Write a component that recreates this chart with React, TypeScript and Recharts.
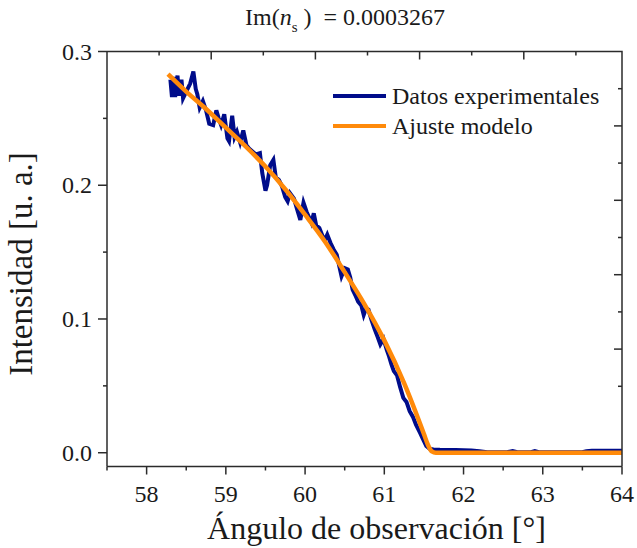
import { Legend, Line, LineChart, XAxis, YAxis } from "recharts";

// experimental scan (angle in degrees, intensity)
const expX = [
  58.3, 58.32, 58.34, 58.36, 58.39, 58.41, 58.44, 58.46, 58.5, 58.55, 58.59, 58.62, 58.64, 58.67, 58.71, 58.75,
  58.79, 58.84, 58.88, 58.91, 58.94, 58.98, 59.02, 59.04, 59.08, 59.11, 59.14, 59.18, 59.22, 59.26, 59.3, 59.34,
  59.38, 59.43, 59.46, 59.5, 59.52, 59.56, 59.6, 59.63, 59.67, 59.71, 59.75, 59.78, 59.81, 59.86, 59.9, 59.94,
  59.98, 60.02, 60.05, 60.08, 60.11, 60.14, 60.18, 60.22, 60.25, 60.28, 60.32, 60.36, 60.4, 60.43, 60.46, 60.5,
  60.54, 60.57, 60.6, 60.64, 60.67, 60.71, 60.74, 60.77, 60.8, 60.84, 60.88, 60.92, 60.95, 60.99, 61.03, 61.06,
  61.09, 61.12, 61.16, 61.2, 61.24, 61.28, 61.32, 61.36, 61.4, 61.45, 61.49, 61.53, 61.57, 61.62, 61.7, 61.8,
  61.9, 62.0, 62.1, 62.2, 62.3, 62.55, 62.62, 62.68, 62.85, 62.9, 62.95, 63.5, 63.55, 63.62, 63.7, 64.0,
];
const expY = [
  0.279, 0.266, 0.281, 0.266, 0.282, 0.267, 0.279, 0.265, 0.27, 0.276, 0.285, 0.272, 0.268, 0.258, 0.263, 0.256,
  0.246, 0.245, 0.256, 0.25, 0.245, 0.253, 0.235, 0.233, 0.252, 0.236, 0.24, 0.232, 0.241, 0.23, 0.227, 0.225,
  0.223, 0.224, 0.209, 0.196, 0.2, 0.215, 0.219, 0.206, 0.204, 0.199, 0.191, 0.188, 0.194, 0.19, 0.182, 0.174,
  0.187, 0.18, 0.176, 0.172, 0.179, 0.17, 0.168, 0.162, 0.159, 0.163, 0.157, 0.152, 0.148, 0.14, 0.132, 0.138,
  0.137, 0.131, 0.122, 0.117, 0.113, 0.11, 0.103, 0.108, 0.107, 0.099, 0.092, 0.086, 0.081, 0.085, 0.077, 0.072,
  0.066, 0.061, 0.058, 0.049, 0.041, 0.038, 0.031, 0.027, 0.021, 0.015, 0.01, 0.005, 0.003, 0.0025, 0.0022, 0.0021,
  0.002, 0.0019, 0.0017, 0.0012, 0.0004, 0.0004, 0.0012, 0.0004, 0.0004, 0.0012, 0.0004, 0.0004, 0.0012, 0.0014, 0.0014, 0.0014,
];

// model fit
const fitX = [58.27, 58.5, 58.75, 59.0, 59.25, 59.5, 59.75, 60.0, 60.25, 60.5, 60.75, 61.0, 61.25, 61.5, 61.55, 61.6, 61.65, 62.5, 64.0];
const fitY = [0.283, 0.27, 0.257, 0.243, 0.229, 0.214, 0.197, 0.178, 0.158, 0.135, 0.111, 0.084, 0.052, 0.014, 0.006, 0.001, 0, 0, 0];

const xTicks = [57.5, 58, 58.5, 59, 59.5, 60, 60.5, 61, 61.5, 62, 62.5, 63, 63.5, 64];
const yTicks = [0, 0.05, 0.1, 0.15, 0.2, 0.25, 0.3];
const seriesOrder = ["Datos experimentales", "Ajuste modelo"];

const xDomain = [57.5, 64];
const yDomain = [-0.0103, 0.3];

const expData = expX.map((x, i) => ({ x, y: expY[i] }));
const fitData = fitX.map((x, i) => ({ x, y: fitY[i] }));

const W = 637;
const H = 548;
const MARGIN = { top: 51.5, right: 15, bottom: 3.5, left: 47 };
// top and right frame edges carry their own unlabeled tick spacing (px)
const TOP_STEP = 52.1;
const RIGHT_STEP = 37.2;
const FRAME_TICKS = [1, 2, 3, 4, 5, 6, 7, 8, 9];

const FONT = "Liberation Serif, Times New Roman, serif";
const INK = "#1a1a1a";
const FRAME = "#2b2b2b";
const BLUE = "#000c8a";
const ORANGE = "#ff8a0a";

const isMult = (v: number, step: number) => Math.abs(v / step - Math.round(v / step)) < 1e-6;

const BottomTick = (p: any) => {
  const v = p.payload.value;
  const major = isMult(v, 1);
  return (
    <g>
      <line x1={p.x} x2={p.x} y1={p.y} y2={p.y + (major ? 8 : 4)} stroke={FRAME} strokeWidth={1.5} />
      {major && (
        <text x={p.x} y={p.y + 35} textAnchor="middle" fontSize={24} style={{ fontFamily: FONT }} fill={INK}>
          {v}
        </text>
      )}
    </g>
  );
};

const LeftTick = (p: any) => {
  const v = p.payload.value;
  const major = isMult(v, 0.1);
  return (
    <g>
      <line x1={p.x - (major ? 9 : 4)} x2={p.x} y1={p.y} y2={p.y} stroke={FRAME} strokeWidth={1.5} />
      {major && (
        <text x={p.x - 15} y={p.y + 8} textAnchor="end" fontSize={24} style={{ fontFamily: FONT }} fill={INK}>
          {v.toFixed(1)}
        </text>
      )}
    </g>
  );
};

const LegendBox = (props: any) => {
  const items = [...props.payload].sort((a: any, b: any) => seriesOrder.indexOf(a.value) - seriesOrder.indexOf(b.value));
  return (
    <div style={{ fontFamily: FONT, fontSize: 24, color: INK, lineHeight: "30px", textAlign: "left" }}>
      {items.map((e: any) => (
        <div key={e.value} style={{ display: "flex", alignItems: "center" }}>
          <span style={{ display: "inline-block", width: 53, height: 4, background: e.color, marginRight: 6 }} />
          {e.value}
        </div>
      ))}
    </div>
  );
};

const XTitle = (p: any) => {
  const vb = p.viewBox;
  return (
    <text x={vb.x + vb.width / 2 + 12} y={vb.y + 72} textAnchor="middle" fontSize={32} style={{ fontFamily: FONT }} fill={INK}>
      Ángulo de observación [°]
    </text>
  );
};

// y title plus the closing top/right edges of the box frame
const YTitleAndFrame = (p: any) => {
  const vb = p.viewBox;
  const cx = vb.x - 15;
  const cy = vb.y + vb.height / 2 + 5;
  const left = vb.x + vb.width;
  const top = vb.y;
  const bottom = vb.y + vb.height;
  const right = W - MARGIN.right;
  return (
    <g>
      <text x={cx} y={cy} transform={`rotate(-90 ${cx} ${cy})`} textAnchor="middle" fontSize={33} style={{ fontFamily: FONT }} fill={INK}>
        Intensidad [u. a.]
      </text>
      <polyline points={`${left},${top} ${right},${top} ${right},${bottom}`} fill="none" stroke={FRAME} strokeWidth={1.5} />
      {FRAME_TICKS.map((k) => (
        <line key={`t${k}`} x1={left + k * TOP_STEP} x2={left + k * TOP_STEP} y1={top} y2={top + (k % 2 === 0 ? 8 : 4)} stroke={FRAME} strokeWidth={1.5} />
      ))}
      {FRAME_TICKS.map((k) => (
        <line key={`r${k}`} x1={right - (k % 2 === 0 ? 8 : 4)} x2={right} y1={top + k * RIGHT_STEP} y2={top + k * RIGHT_STEP} stroke={FRAME} strokeWidth={1.5} />
      ))}
    </g>
  );
};

export default function App() {
  return (
    <div style={{ position: "absolute", left: 0, top: 0, width: W, height: H, background: "#fff" }}>
      <div
        style={{
          position: "absolute",
          top: 4,
          left: 0,
          width: 690,
          textAlign: "center",
          fontFamily: FONT,
          fontSize: 24,
          color: INK,
        }}
      >
        Im(<i>n</i>
        <sub style={{ fontSize: 15, verticalAlign: "-7px" }}>s</sub>&nbsp;) &nbsp;= 0.0003267
      </div>
      <LineChart width={W} height={H} data={expData} margin={MARGIN}>
        <XAxis
          dataKey="x"
          type="number"
          domain={xDomain}
          ticks={xTicks}
          interval={0}
          allowDataOverflow
          height={78}
          tickSize={0}
          tickMargin={0}
          tickLine={false}
          axisLine={{ stroke: FRAME, strokeWidth: 1.5 }}
          tick={<BottomTick />}
          label={{ content: <XTitle /> }}
        />
        <YAxis
          type="number"
          domain={yDomain}
          ticks={yTicks}
          interval={0}
          allowDataOverflow
          width={60}
          tickSize={0}
          tickMargin={0}
          tickLine={false}
          axisLine={{ stroke: FRAME, strokeWidth: 1.5 }}
          tick={<LeftTick />}
          label={{ content: <YTitleAndFrame /> }}
        />
        <Legend
          layout="vertical"
          verticalAlign="middle"
          align="center"
          content={<LegendBox />}
          wrapperStyle={{ position: "absolute", left: 333, top: 81, width: 280 }}
        />
        <Line
          data={expData}
          dataKey="y"
          name="Datos experimentales"
          type="linear"
          stroke={BLUE}
          strokeWidth={4}
          dot={false}
          isAnimationActive={false}
        />
        <Line
          data={fitData}
          dataKey="y"
          name="Ajuste modelo"
          type="monotone"
          stroke={ORANGE}
          strokeWidth={4.5}
          dot={false}
          isAnimationActive={false}
        />
      </LineChart>
    </div>
  );
}
